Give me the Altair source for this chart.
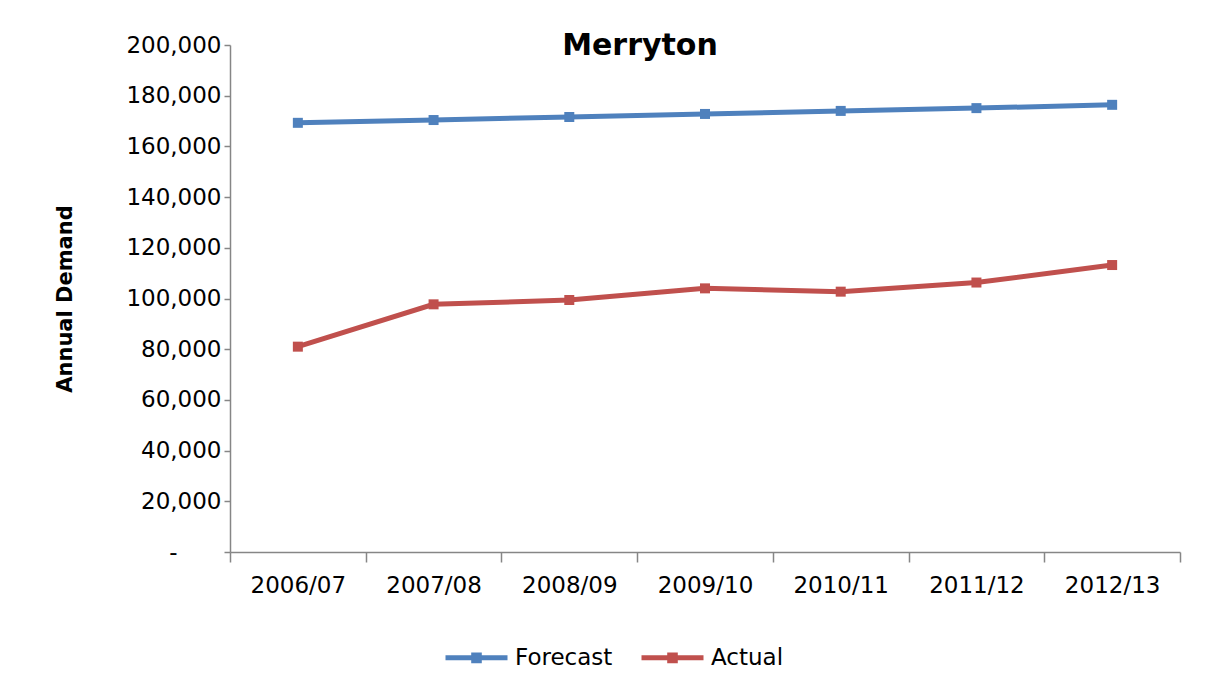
import altair as alt
import pandas as pd

years = ["2006/07", "2007/08", "2008/09", "2009/10", "2010/11", "2011/12", "2012/13"]
forecast = [169300, 170400, 171600, 172800, 174000, 175100, 176400]
actual = [81000, 97700, 99400, 104000, 102700, 106300, 113200]
series_names = ["Forecast", "Actual"]
series_colors = ["#4F81BD", "#C0504D"]
y_ticks = [0, 20000, 40000, 60000, 80000, 100000, 120000, 140000, 160000, 180000, 200000]

rows = []
for i, yr in enumerate(years):
    rows.append({"year": yr, "series": "Forecast", "value": forecast[i], "order": 0})
    rows.append({"year": yr, "series": "Actual", "value": actual[i], "order": 1})
df = pd.DataFrame(rows)

FONT = "DejaVu Sans"
sym = "M-1,0L1,0M-0.09,-0.09L0.09,-0.09L0.09,0.09L-0.09,0.09Z"

chart = alt.Chart(df).mark_line(
    strokeWidth=5,
    point=alt.OverlayMarkDef(shape="square", size=100, filled=True),
).encode(
    x=alt.X("year:N", sort=years,
            scale=alt.Scale(type="band", paddingInner=0, paddingOuter=0),
            axis=alt.Axis(title=None, labelAngle=0, tickBand="extent", tickSize=10,
                          labelPadding=12, labelFontSize=23, labelFont=FONT,
                          labelColor="#000000", domainColor="#868686",
                          tickColor="#868686", domainWidth=1.5, tickWidth=1.5,
                          grid=False)),
    y=alt.Y("value:Q",
            scale=alt.Scale(domain=[0, 200000], nice=False),
            axis=alt.Axis(title="Annual Demand", values=y_ticks,
                          labelExpr="datum.value == 0 ? '-\u2007\u2007\u2007\u200b' : format(datum.value, ',')",
                          tickSize=6, labelPadding=3, labelFontSize=23,
                          labelFont=FONT, labelColor="#000000",
                          titleFont=FONT, titleFontSize=21, titleFontWeight="bold",
                          titleColor="#000000", titlePadding=50,
                          domainColor="#868686", tickColor="#868686",
                          domainWidth=1.5, tickWidth=1.5, grid=False)),
    color=alt.Color("series:N",
                    scale=alt.Scale(domain=series_names, range=series_colors),
                    legend=alt.Legend(title=None, orient="none", direction="horizontal",
                                      legendX=213, legendY=579,
                                      symbolType=sym, symbolSize=3844,
                                      symbolStrokeWidth=5, labelFontSize=23,
                                      labelFont=FONT, labelColor="#000000",
                                      labelOffset=5, columnPadding=18)),
    order="order:O",
).properties(
    width=950,
    height=507,
    title=alt.Title("Merryton", font=FONT, fontSize=30, fontWeight="bold",
                    color="#000000", anchor="middle", dx=-65, dy=31, frame="group"),
    padding={"left": 222, "top": 37, "right": 20, "bottom": 120},
    autosize=alt.AutoSizeParams(type="none"),
).configure(background="#ffffff").configure_view(stroke=None)

chart.save("out.html", embed_options={"renderer": "svg", "actions": False})
